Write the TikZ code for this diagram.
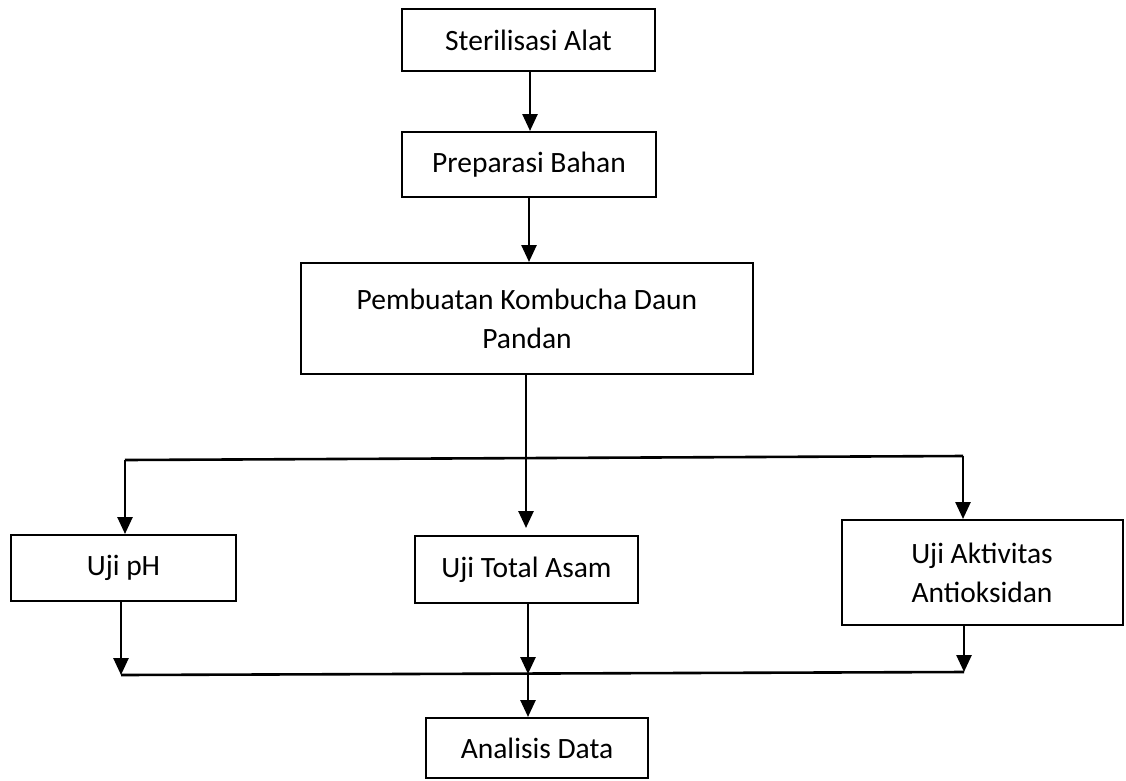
\documentclass[tikz,border=0pt]{standalone}
\usepackage{fontspec}
\setmainfont{Carlito}
\usetikzlibrary{arrows.meta}
\begin{document}
\begin{tikzpicture}[x=1pt,y=-1pt,
  box/.style={draw=black, line width=2pt, inner sep=0pt, align=center,
    font=\fontsize{29.5}{39}\selectfont},
  arr/.style={line width=2.6pt, -{Triangle[width=15pt,length=17pt]}},
  bar/.style={line width=2.6pt}]
\useasboundingbox (0,0) rectangle (1126,780);
\node[box, minimum width=253pt, minimum height=62pt] (s1) at (528.5,40) {Sterilisasi Alat};
\node[box, minimum width=254pt, minimum height=65pt] (s2) at (529,164.5) {Preparasi Bahan};
\node[box, minimum width=452pt, minimum height=111pt] (s3) at (527,318.5) {Pembuatan Kombucha Daun\\Pandan};
\node[box, minimum width=225pt, minimum height=66pt] (t1) at (123.5,568) {Uji pH};
\node[box, minimum width=223pt, minimum height=67pt] (t2) at (526.5,569.5) {Uji Total Asam};
\node[box, minimum width=281pt, minimum height=105pt] (t3) at (982,572.5) {Uji Aktivitas\\Antioksidan};
\node[box, minimum width=222pt, minimum height=60pt] (ad) at (537,748) {Analisis Data};
\coordinate (jl) at (125,460);
\coordinate (jm) at (526,458);
\coordinate (jr) at (963,456);
\coordinate (bl) at (121,675);
\coordinate (bm) at (528,674);
\coordinate (br) at (964,672);
% top part
\draw[arr] (s1.south -| 530,0) -- (s2.north -| 530,0);
\draw[arr] (s2.south -| 529,0) -- (s3.north -| 529,0);
\draw[bar] (s3.south -| jm) -- (jm);
\draw[bar] (jl) -- (jr);
\draw[arr] (jl) -- (t1.north -| jl);
\draw[arr] (jm) -- ([yshift=7pt]t2.north -| jm);
\draw[arr] (jr) -- (t3.north -| jr);
% bottom part
\draw[arr] (t1.south -| bl) -- (bl);
\draw[arr] (t2.south -| bm) -- (bm);
\draw[arr] (t3.south -| br) -- (br);
\draw[bar] (bl) -- (br);
\draw[arr] (bm) -- (ad.north -| bm);
\end{tikzpicture}
\end{document}
